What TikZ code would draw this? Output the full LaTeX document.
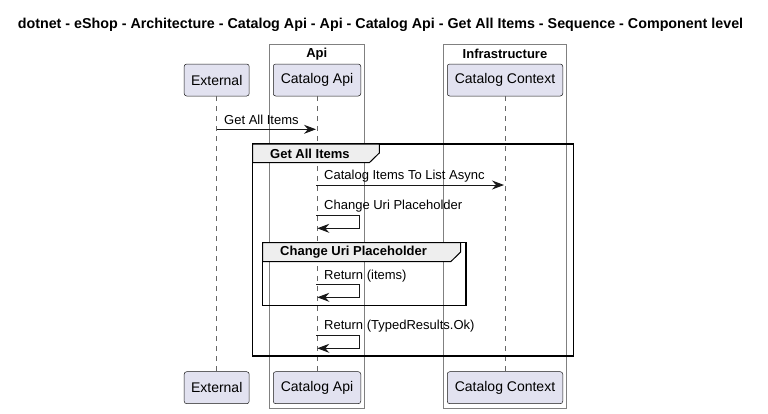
\documentclass[tikz,border=0pt]{standalone}
\usepackage{fontspec}
\setmainfont{Liberation Sans}
\usetikzlibrary{arrows.meta}
\definecolor{partfill}{HTML}{E2E2F0}
\definecolor{partline}{HTML}{181818}
\definecolor{tabfill}{HTML}{EEEEEE}
\tikzset{
  participant/.style={draw=partline,fill=partfill,rounded corners=2.5pt,line width=0.5pt,
    minimum height=32pt,inner sep=0pt,font=\fontsize{14}{16}\selectfont},
  lifeline/.style={draw=black!60,dash pattern=on 5pt off 5pt,line width=0.6pt},
  msg/.style={draw=partline,line width=0.9pt,-{Stealth[length=12pt,width=9pt,inset=4pt]}},
  msglabel/.style={anchor=west,inner sep=0pt,font=\fontsize{13}{15}\selectfont},
  groupbox/.style={draw=black!50,line width=0.8pt},
  framebox/.style={draw=black,line width=1.5pt},
  tabbox/.style={draw=black,fill=tabfill,line width=1pt},
  tablabel/.style={inner sep=0pt,font=\bfseries\fontsize{13}{15}\selectfont}
}
\begin{document}
\begin{tikzpicture}[x=1pt,y=-1pt]
      \useasboundingbox (0,0) rectangle (768,413);
      \node[font=\bfseries\fontsize{14.3}{16}\selectfont] (title) at (380.5,25)
        {dotnet - eShop - Architecture - Catalog Api - Api - Catalog Api - Get All Items - Sequence - Component level};

      % boxes round the participants
      \draw[groupbox] (269.3,44) rectangle (364.3,408.3);
      \draw[groupbox] (443.3,44) rectangle (566.7,408.3);
      \node[tablabel] (apititle) at (316.8,54) {Api};
      \node[tablabel] (infratitle) at (505,54) {Infrastructure};

      % participants
      \node[participant,minimum width=65pt] (ext) at (216.7,80) {External};
      \node[participant,minimum width=87.5pt] (api) at (317,80) {Catalog Api};
      \node[participant,minimum width=115.5pt] (ctx) at (505,80) {Catalog Context};
      \node[participant,minimum width=65pt] (extb) at (216.7,387.7) {External};
      \node[participant,minimum width=87.5pt] (apib) at (317,387.7) {Catalog Api};
      \node[participant,minimum width=115.5pt] (ctxb) at (505,387.7) {Catalog Context};

      \draw[lifeline] (ext) -- (extb);
      \draw[lifeline] (api) -- (apib);
      \draw[lifeline] (ctx) -- (ctxb);

      % frames
      \draw[framebox] (252.7,144) rectangle (573.3,356);
      \draw[tabbox] (252.7,144) -- (379.3,144) -- (379.3,153) -- (369.3,162.7) -- (252.7,162.7) -- cycle;
      \node[tablabel,anchor=west] (frameone) at (270,154) {Get All Items};
      \draw[framebox] (262.7,242.7) rectangle (466,305.7);
      \draw[tabbox] (262.7,242.7) -- (460.7,242.7) -- (460.7,252) -- (450.7,261.7) -- (262.7,261.7) -- cycle;
      \node[tablabel,anchor=west] (frametwo) at (280,252.5) {Change Uri Placeholder};

      % messages
      \coordinate (m1a) at (216.7,129.3);
      \coordinate (m1b) at (316,129.3);
      \draw[msg] (m1a) -- (m1b);
      \node[msglabel] (l1) at (224,120) {Get All Items};

      \coordinate (m2a) at (316,185);
      \coordinate (m2b) at (504,185);
      \draw[msg] (m2a) -- (m2b);
      \node[msglabel] (l2) at (324,176.5) {Catalog Items To List Async};

      \coordinate (m3a) at (316,215);
      \coordinate (m3b) at (317.3,228.3);
      \draw[msg] (m3a) -- ++(43.3,0) |- (m3b);
      \node[msglabel] (l3) at (324,206.5) {Change Uri Placeholder};

      \coordinate (m4a) at (316,284.3);
      \coordinate (m4b) at (317.3,297.3);
      \draw[msg] (m4a) -- ++(43.3,0) |- (m4b);
      \node[msglabel] (l4) at (324,276) {Return (items)};

      \coordinate (m5a) at (316,335.7);
      \coordinate (m5b) at (317.3,348.3);
      \draw[msg] (m5a) -- ++(43.3,0) |- (m5b);
      \node[msglabel] (l5) at (324,326.5) {Return (TypedResults.Ok)};
    \end{tikzpicture}
\end{document}
